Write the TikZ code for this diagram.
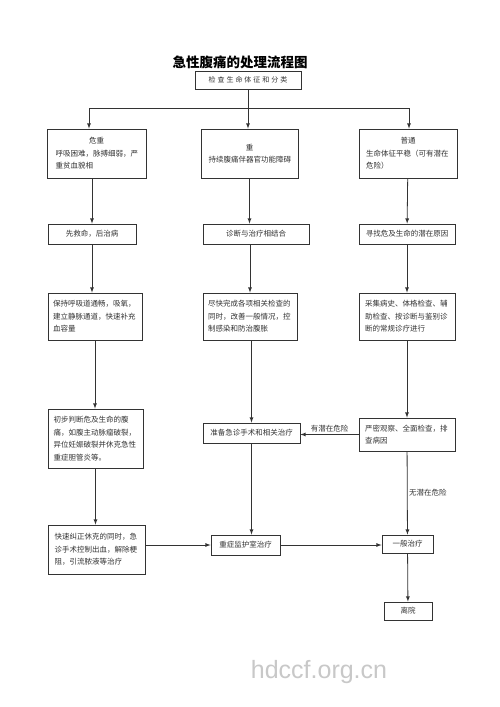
\documentclass[tikz,border=0pt]{standalone}
\usepackage{fontspec}
\setmainfont{Noto Sans CJK SC}
\newfontfamily\wmfont{Liberation Sans}
\definecolor{dgray}{HTML}{333333}
\definecolor{wgray}{HTML}{C8C8C8}

\begin{document}
\begin{tikzpicture}[x=1pt,y=-1pt,>=latex,
  box/.style={draw=dgray,line width=0.8pt,inner sep=4pt,align=left,text=dgray,
    font=\fontsize{7.5}{12.5}\selectfont},
  line/.style={draw=dgray,line width=0.8pt},
  flow/.style={->,draw=dgray,line width=0.8pt},
  tag/.style={text=dgray,font=\fontsize{7.5}{9}\selectfont,inner sep=1.5pt}]

\useasboundingbox[fill=white] (0,0) rectangle (500,707);

\node[font=\bfseries\fontsize{13.5}{15}\selectfont] (title) at (240,62) {急性腹痛的处理流程图};
\node[box,minimum width=106pt,minimum height=18pt,align=center,font=\fontsize{7}{9}\selectfont] (check) at (248,80)
  {\addfontfeature{LetterSpace=28}检查生命体征和分类};

\node[box,minimum width=99pt,minimum height=49pt,text width=82pt] (r1a) at (96.5,153.5)
  {\makebox[\hsize]{危重}\\呼吸困难，脉搏细弱，严\\重贫血貌相};
\node[box,minimum width=97pt,minimum height=49pt,text width=82pt] (r1b) at (249.5,153.5)
  {\makebox[\hsize]{重}\\持续腹痛伴器官功能障碍};
\node[box,minimum width=98pt,minimum height=49pt,text width=84pt] (r1c) at (408,153.5)
  {\makebox[\hsize]{普通}\\生命体征平稳（可有潜在\\危险）};

\node[box,minimum width=88pt,minimum height=20pt,align=center] (r2a) at (92,234) {先救命，后治病};
\node[box,minimum width=106pt,minimum height=20pt,align=center] (r2b) at (256,234) {诊断与治疗相结合};
\node[box,minimum width=96pt,minimum height=20pt,align=center] (r2c) at (407,234) {寻找危及生命的潜在原因};

\node[box,minimum width=94pt,minimum height=47pt,text width=84pt] (r3a) at (95,316.5)
  {保持呼吸道通畅，吸氧，\\建立静脉通道，快速补充\\血容量};
\node[box,minimum width=94pt,minimum height=47pt,text width=84pt] (r3b) at (250,316.5)
  {尽快完成各项相关检查的\\同时，改善一般情况，控\\制感染和防治腹胀};
\node[box,minimum width=96pt,minimum height=47pt,text width=84pt] (r3c) at (407,316.5)
  {采集病史、体格检查、辅\\助检查、按诊断与鉴别诊\\断的常规诊疗进行};

\node[box,minimum width=95pt,minimum height=59pt,text width=84pt] (r4a) at (95.5,438.5)
  {初步判断危及生命的腹\\痛，如腹主动脉瘤破裂，\\异位妊娠破裂并休克急性\\重症胆管炎等。};
\node[box,minimum width=97pt,minimum height=20pt,align=center] (r4b) at (251.5,433) {准备急诊手术和相关治疗};
\node[box,minimum width=96pt,minimum height=33pt,text width=84pt] (r4c) at (407,434.5)
  {严密观察、全面检查，排\\查病因};

\node[box,minimum width=97pt,minimum height=49pt,text width=84pt] (r5a) at (96.5,549.5)
  {快速纠正休克的同时，急\\诊手术控制出血，解除梗\\阻，引流脓液等治疗};
\node[box,minimum width=69pt,minimum height=20pt,align=center] (r5b) at (245.5,545) {重症监护室治疗};
\node[box,minimum width=51pt,minimum height=18pt,align=center] (r5c) at (407.5,544) {一般治疗};

\node[box,minimum width=48pt,minimum height=18pt,align=center] (leave) at (408,611) {离院};

\coordinate (split) at (248,108);
\coordinate (splitl) at (89,108);
\coordinate (splitr) at (409,108);
\draw[line] (check) -- (split);
\draw[line] (splitl) -- (splitr);
\draw[flow] (splitl) -- (splitl |- r1a.north);
\draw[flow] (split) -- (split |- r1b.north);
\draw[flow] (splitr) -- (splitr |- r1c.north);

\draw[flow] (r2a |- r1a.south) -- (r2a);
\draw[flow] (r2a) -- (r2a |- r3a.north);
\draw[flow] (r3a) -- (r3a |- r4a.north);
\draw[flow] (r4a) -- (r4a |- r5a.north);

\draw[flow] (r1b) -- (r1b |- r2b.north);
\draw[flow] (r3b |- r2b.south) -- (r3b);
\draw[flow] (r4b |- r3b.south) -- (r4b);
\draw[flow] (r4b) -- (r4b |- r5b.north);

\draw[flow] (r1c) -- (r2c);
\draw[flow] (r2c) -- (r3c);
\draw[flow] (r3c) -- (r4c);
\draw[flow] (r4c) -- (r4c -| r4b.east) node[tag,midway,above] {有潜在危险};
\draw[flow] (r4c) -- (r5c) node[tag,midway,right] {无潜在危险};

\draw[flow] (r5a.east |- r5b) -- (r5b);
\draw[flow] (r5b) -- (r5b -| r5c.west);
\draw[flow] (r5c) -- (leave);

\node[font=\wmfont\fontsize{25}{25}\selectfont,text=wgray,anchor=base] (mark) at (319,678) {hdccf.org.cn};
\end{tikzpicture}
\end{document}
